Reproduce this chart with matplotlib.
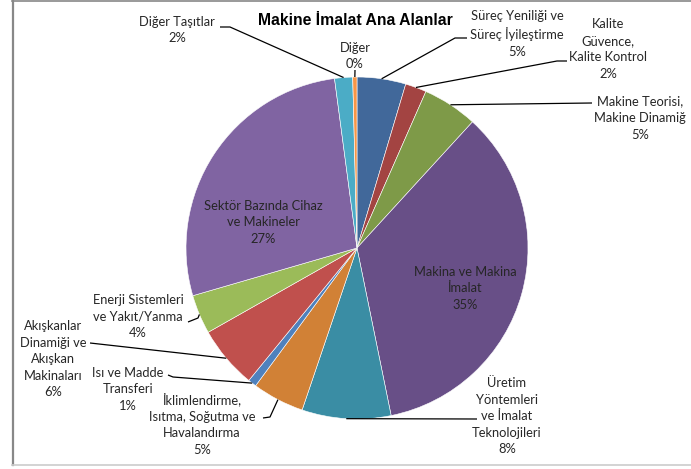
import numpy as np
import matplotlib.pyplot as plt
from matplotlib.lines import Line2D

W, H = 691, 469

categories = [
    "Süreç Yeniliği ve\nSüreç İyileştirme",
    "Kalite\nGüvence,\nKalite Kontrol",
    "Makine Teorisi,\nMakine Dinamiğ",
    "Makina ve Makina\nİmalat",
    "Üretim\nYöntemleri\nve İmalat\nTeknolojileri",
    "İklimlendirme,\nIsıtma, Soğutma ve\nHavalandırma",
    "Isı ve Madde\nTransferi",
    "Akışkanlar\nDinamiği ve\nAkışkan\nMakinaları",
    "Enerji Sistemleri\nve Yakıt/Yanma",
    "Sektör Bazında Cihaz\nve Makineler",
    "Diğer Taşıtlar",
    "Diğer",
]
values = [4.6, 2.0, 5.2, 35.0, 8.4, 4.9, 0.8, 5.9, 3.7, 27.4, 1.7, 0.4]
colors = ['#41689A', '#A34442', '#7E9A48', '#684F87', '#3A8DA4', '#D18136',
          '#4F81BD', '#C0504D', '#9BBB59', '#8064A2', '#4BACC6', '#F79646']

# label centre (pixel coords, y down) and leader line elbow points
label_pos = [(517, 34), (608, 49), (640, 118), (465, 288), (507, 416),
             (202, 424), (128, 389), (53, 359), (138, 316), (263, 222),
             (177, 30), (355, 56)]
leaders = [
    [(467, 38), (455, 38)],
    [(567, 61), (557, 61)],
    [(592, 103)],
    None,
    [(477, 419)],
    [(263, 418), (270, 417)],
    [(168, 375), (173, 377)],
    [(90, 343)],
    [(188, 322), (198, 318)],
    None,
    [(220, 27), (230, 27)],
    [(355, 70)],
]

cx, cy, r = 357, 248, 171

fig = plt.figure(figsize=(W / 100, H / 100), dpi=100)
ax = fig.add_axes([0, 0, 1, 1])
ax.set_xlim(0, W)
ax.set_ylim(0, H)
ax.set_aspect('equal')
ax.axis('off')

def py(y):
    return H - y

wedges, _ = ax.pie(values, colors=colors, startangle=90, counterclock=False,
                   center=(cx, py(cy)), radius=r,
                   wedgeprops=dict(edgecolor='white', linewidth=0.4))
ax.set_xlim(0, W)
ax.set_ylim(0, H)

font = 'Lato'
for i, (w, v, name) in enumerate(zip(wedges, values, categories)):
    lx, ly = label_pos[i]
    ax.text(lx, py(ly), f"{name}\n{v:.0f}%", ha='center', va='center',
            fontsize=9.3, family=font, color='#262626', linespacing=1.45)
    if leaders[i] is not None:
        ang = np.deg2rad((w.theta1 + w.theta2) / 2)
        ex = cx + r * np.cos(ang)
        ey = py(cy) + r * np.sin(ang)
        xs = [p[0] for p in leaders[i]] + [ex]
        ys = [py(p[1]) for p in leaders[i]] + [ey]
        ax.plot(xs, ys, color='black', lw=0.9, solid_capstyle='butt')

ax.text(355, py(20), "Makine İmalat Ana Alanlar", ha='center', va='center',
        fontsize=11.3, fontweight='bold', family='Liberation Sans')

# chart frame
fig.add_artist(Line2D([13 / W, 13 / W], [py(465) / H, py(1) / H], color='#888888', lw=1.6))
fig.add_artist(Line2D([12 / W, 1], [py(1.5) / H, py(1.5) / H], color='#888888', lw=1.2))
fig.add_artist(Line2D([12 / W, 1], [py(465) / H, py(465) / H], color='#cccccc', lw=1.2))

plt.savefig('out.png', dpi=100)
plt.close()
